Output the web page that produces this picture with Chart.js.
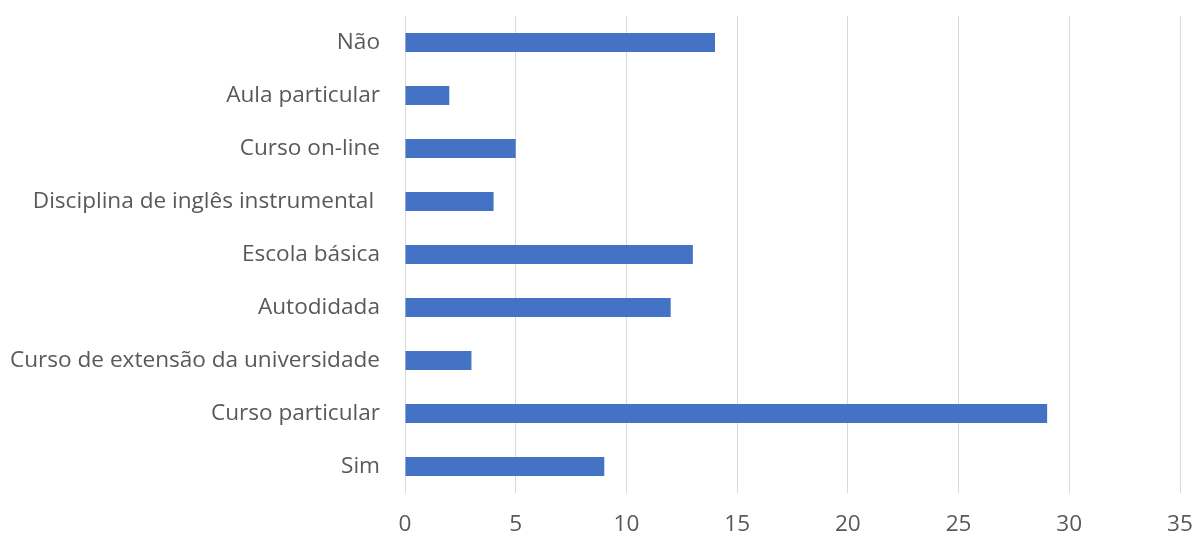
<!DOCTYPE html>
<html>
<head>
<meta charset="utf-8">
<script src="https://cdn.jsdelivr.net/npm/chart.js@4/dist/chart.umd.min.js"></script>
<style>
  html, body { margin: 0; padding: 0; background: #fff; }
  #wrap { width: 1195px; height: 539px; }
</style>
</head>
<body>
<div id="wrap"><canvas id="chart"></canvas></div>
<script>
// Categorias e contagens (de cima para baixo)
const categorias = [
    "Não",
    "Aula particular",
    "Curso on-line",
    "Disciplina de inglês instrumental ",
    "Escola básica",
    "Autodidada",
    "Curso de extensão da universidade",
    "Curso particular",
    "Sim"
];
const contagens = [14, 2, 5, 4, 13, 12, 3, 29, 9];
const eixoMax = 35;
const eixoPasso = 5;

const fonte = { family: "'Open Sans', 'Liberation Sans', sans-serif", size: 22.6 };

new Chart(document.getElementById("chart"), {
    type: "bar",
    data: {
        labels: categorias,
        datasets: [{
            data: contagens,
            backgroundColor: "#4472c4",
            categoryPercentage: 1,
            barPercentage: 0.36
        }]
    },
    options: {
        indexAxis: "y",
        responsive: true,
        maintainAspectRatio: false,
        animation: false,
        layout: { padding: { top: 16, right: 15, bottom: 0, left: 0 } },
        plugins: {
            legend: { display: false },
            tooltip: { enabled: false }
        },
        scales: {
            x: {
                min: 0,
                max: eixoMax,
                ticks: { stepSize: eixoPasso, color: "#595959", font: fonte, padding: 18 },
                grid: { color: "#d9d9d9", drawTicks: false },
                border: { display: false },
                afterFit: s => { s.height = 46; s.paddingLeft = 0; s.paddingRight = 0; }
            },
            y: {
                ticks: { color: "#595959", font: fonte, padding: 17 },
                grid: { display: false },
                border: { display: false },
                afterFit: s => { s.width = 405; s.paddingTop = 0; s.paddingBottom = 0; }
            }
        }
    }
});
</script>
</body>
</html>
